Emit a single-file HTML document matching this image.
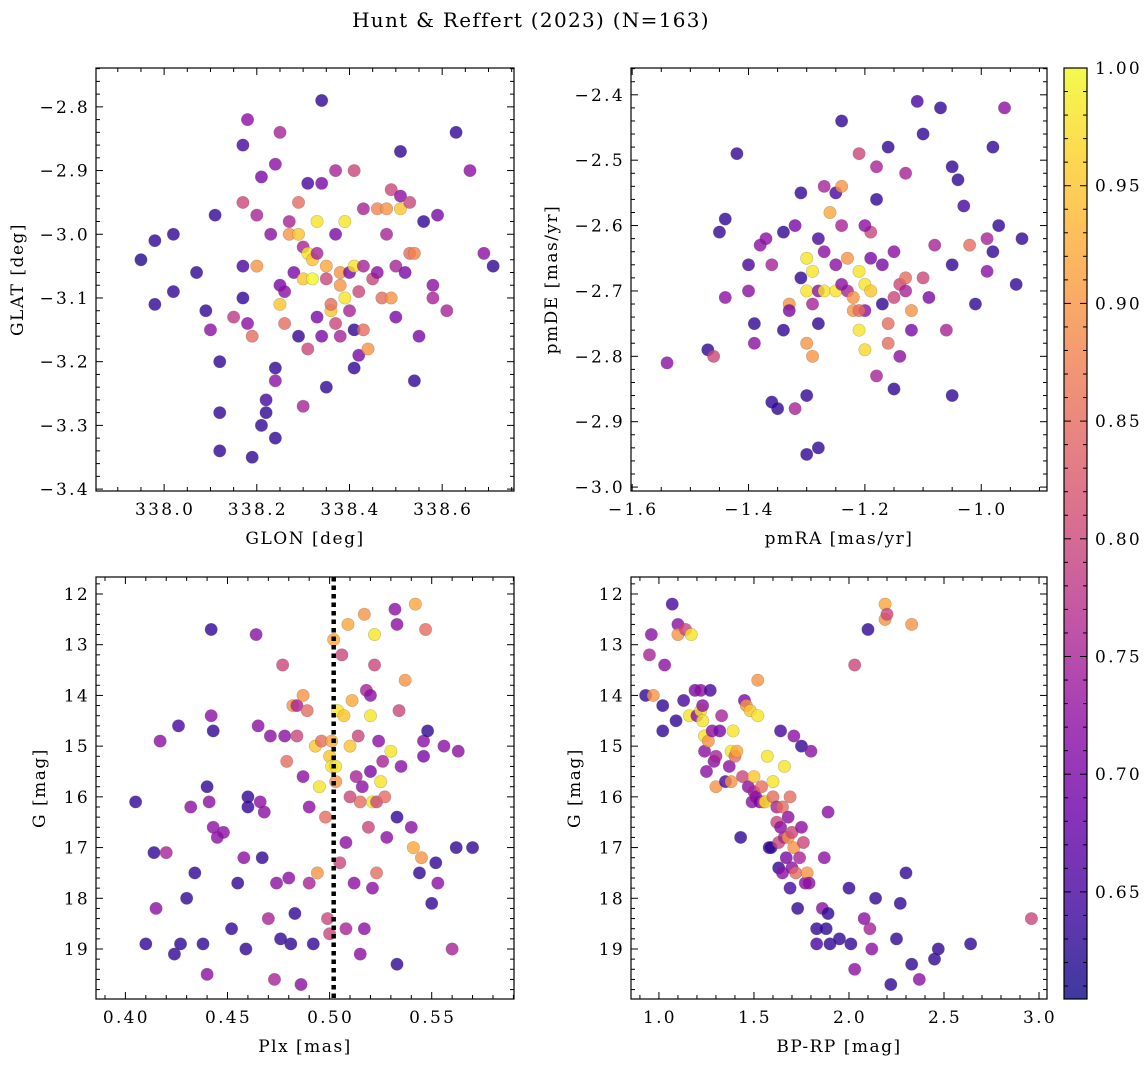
<!DOCTYPE html>
<html><head><meta charset="utf-8">
<style>
html,body{margin:0;padding:0;background:#fff;}
svg{display:block;font-family:"DejaVu Serif","Liberation Serif",serif;}
.tk{letter-spacing:2.3px;}
.lb{letter-spacing:1.5px;}
</style></head>
<body>
<svg id="fig" width="1148" height="1067" viewBox="0 0 1148 1067" xmlns="http://www.w3.org/2000/svg">
<defs>
<linearGradient id="plasma" x1="0" y1="1" x2="0" y2="0">
<stop offset="0" stop-color="#0d0887"/><stop offset="0.1" stop-color="#41049d"/>
<stop offset="0.2" stop-color="#6a00a8"/><stop offset="0.3" stop-color="#8f0da4"/>
<stop offset="0.4" stop-color="#b12a90"/><stop offset="0.5" stop-color="#cc4778"/>
<stop offset="0.6" stop-color="#e16462"/><stop offset="0.7" stop-color="#f2844b"/>
<stop offset="0.8" stop-color="#fca636"/><stop offset="0.9" stop-color="#fcce25"/>
<stop offset="1" stop-color="#f0f921"/>
</linearGradient>
</defs>
<text x="531" y="27" text-anchor="middle" font-size="20" letter-spacing="1.3">Hunt &amp; Reffert (2023) (N=163)</text>
</svg>
<script>
// ---------- data ----------
const tlGlon=[337.95,337.98,337.98,338.02,338.02,338.07,338.09,338.1,338.11,338.12,338.12,338.12,338.15,338.17,338.17,338.17,338.17,338.18,338.18,338.19,338.19,338.2,338.2,338.21,338.21,338.22,338.22,338.23,338.24,338.24,338.24,338.24,338.25,338.25,338.25,338.26,338.26,338.27,338.27,338.28,338.29,338.29,338.29,338.3,338.3,338.3,338.31,338.31,338.31,338.32,338.32,338.33,338.33,338.33,338.34,338.34,338.34,338.35,338.35,338.35,338.36,338.36,338.37,338.37,338.37,338.38,338.38,338.38,338.39,338.39,338.4,338.4,338.41,338.41,338.41,338.41,338.42,338.42,338.43,338.43,338.43,338.44,338.45,338.46,338.46,338.47,338.48,338.48,338.49,338.49,338.5,338.5,338.51,338.51,338.51,338.52,338.53,338.53,338.54,338.54,338.55,338.56,338.58,338.58,338.59,338.61,338.63,338.66,338.69,338.71];
const tlGlat=[-3.04,-3.01,-3.11,-3.0,-3.09,-3.06,-3.12,-3.15,-2.97,-3.2,-3.28,-3.34,-3.13,-3.1,-3.05,-2.95,-2.86,-2.82,-3.14,-3.16,-3.35,-3.05,-2.97,-3.3,-2.91,-3.28,-3.26,-3.0,-3.32,-3.21,-3.23,-2.89,-2.84,-3.08,-3.11,-3.14,-3.09,-3.0,-2.98,-3.06,-2.95,-3.0,-3.16,-3.02,-3.07,-3.27,-3.18,-2.92,-3.03,-3.07,-3.04,-3.03,-2.98,-3.13,-2.79,-3.16,-2.92,-3.07,-3.24,-3.05,-3.12,-3.11,-2.9,-3.14,-3.0,-3.06,-3.16,-3.08,-3.1,-2.98,-3.06,-3.12,-3.05,-3.21,-3.15,-2.9,-3.09,-3.19,-3.05,-2.96,-3.15,-3.18,-3.07,-2.96,-3.06,-3.1,-2.96,-3.0,-2.93,-3.1,-3.13,-3.05,-2.96,-2.87,-2.94,-3.06,-2.95,-3.03,-3.23,-3.03,-3.16,-2.98,-3.08,-3.1,-2.97,-3.12,-2.84,-2.9,-3.03,-3.05];
const tlProb=[0.62,0.63,0.63,0.63,0.63,0.63,0.63,0.72,0.63,0.63,0.63,0.63,0.78,0.63,0.65,0.8,0.65,0.72,0.72,0.85,0.63,0.9,0.75,0.63,0.7,0.63,0.65,0.72,0.63,0.63,0.72,0.72,0.75,0.7,0.95,0.85,0.72,0.9,0.75,0.7,0.85,0.95,0.63,0.75,0.95,0.75,0.8,0.65,0.98,1.0,0.95,0.75,0.98,0.7,0.63,0.7,0.7,0.8,0.63,0.92,0.95,0.85,0.75,0.8,0.7,0.9,0.75,0.9,0.98,0.98,0.7,0.75,0.98,0.63,0.63,0.8,0.8,0.7,0.75,0.75,0.85,0.9,0.8,0.88,0.72,0.85,0.9,0.75,0.8,0.9,0.7,0.75,0.95,0.63,0.72,0.7,0.8,0.85,0.63,0.88,0.7,0.63,0.72,0.75,0.7,0.75,0.63,0.72,0.72,0.63];

const trPmra=[-1.54,-1.47,-1.46,-1.45,-1.44,-1.42,-1.44,-1.4,-1.4,-1.39,-1.39,-1.38,-1.37,-1.36,-1.36,-1.35,-1.34,-1.34,-1.33,-1.33,-1.32,-1.32,-1.31,-1.31,-1.3,-1.3,-1.3,-1.3,-1.3,-1.29,-1.29,-1.29,-1.28,-1.28,-1.28,-1.27,-1.27,-1.26,-1.25,-1.25,-1.24,-1.24,-1.24,-1.23,-1.22,-1.21,-1.21,-1.2,-1.2,-1.28,-1.25,-1.27,-1.24,-1.23,-1.21,-1.2,-1.19,-1.19,-1.18,-1.18,-1.18,-1.17,-1.17,-1.16,-1.16,-1.15,-1.15,-1.14,-1.14,-1.13,-1.13,-1.12,-1.11,-1.1,-1.1,-1.09,-1.08,-1.07,-1.06,-1.05,-1.05,-1.04,-1.03,-1.02,-1.01,-0.98,-0.96,-0.99,-0.98,-0.97,-0.94,-0.93,-0.99,-1.05,-1.16,-1.15,-1.13,-1.12,-1.2,-1.22,-1.21,-1.19];
const trPmde=[-2.81,-2.79,-2.8,-2.61,-2.59,-2.49,-2.71,-2.66,-2.7,-2.78,-2.75,-2.63,-2.62,-2.66,-2.87,-2.88,-2.76,-2.61,-2.72,-2.73,-2.6,-2.88,-2.55,-2.68,-2.86,-2.95,-2.78,-2.7,-2.65,-2.8,-2.67,-2.72,-2.7,-2.62,-2.75,-2.7,-2.64,-2.58,-2.55,-2.7,-2.44,-2.54,-2.6,-2.7,-2.73,-2.67,-2.76,-2.79,-2.73,-2.94,-2.66,-2.54,-2.69,-2.65,-2.73,-2.69,-2.7,-2.61,-2.56,-2.51,-2.83,-2.66,-2.72,-2.48,-2.75,-2.64,-2.85,-2.69,-2.8,-2.68,-2.52,-2.73,-2.41,-2.46,-2.68,-2.71,-2.63,-2.42,-2.76,-2.51,-2.66,-2.53,-2.57,-2.63,-2.72,-2.48,-2.42,-2.62,-2.64,-2.6,-2.69,-2.62,-2.67,-2.86,-2.78,-2.71,-2.7,-2.76,-2.6,-2.71,-2.49,-2.65];
const trProb=[0.72,0.63,0.8,0.63,0.63,0.63,0.72,0.65,0.72,0.72,0.63,0.72,0.72,0.75,0.63,0.63,0.63,0.63,0.9,0.7,0.7,0.75,0.63,0.63,0.63,0.63,0.9,0.98,0.98,0.9,0.98,0.75,0.72,0.65,0.63,0.98,0.72,0.92,0.65,0.98,0.63,0.9,0.75,0.75,0.9,0.98,0.98,0.97,0.72,0.63,0.72,0.75,0.72,0.9,0.85,0.98,0.95,0.8,0.63,0.75,0.75,0.7,0.63,0.63,0.85,0.72,0.63,0.8,0.72,0.85,0.75,0.9,0.65,0.63,0.8,0.7,0.75,0.63,0.75,0.63,0.63,0.63,0.65,0.85,0.63,0.63,0.72,0.75,0.63,0.63,0.63,0.63,0.72,0.63,0.85,0.8,0.75,0.7,0.72,0.9,0.8,0.7];

const blPlx=[0.405,0.41,0.414,0.415,0.417,0.42,0.424,0.426,0.427,0.43,0.432,0.434,0.438,0.44,0.44,0.441,0.442,0.442,0.443,0.443,0.445,0.448,0.452,0.455,0.458,0.459,0.46,0.46,0.464,0.466,0.465,0.467,0.468,0.47,0.471,0.473,0.474,0.476,0.477,0.478,0.479,0.48,0.481,0.482,0.483,0.484,0.484,0.486,0.487,0.487,0.489,0.49,0.49,0.492,0.493,0.494,0.495,0.496,0.498,0.499,0.5,0.5,0.501,0.501,0.502,0.503,0.503,0.504,0.505,0.506,0.507,0.508,0.508,0.509,0.51,0.51,0.511,0.512,0.513,0.514,0.515,0.515,0.516,0.517,0.517,0.518,0.519,0.52,0.52,0.52,0.521,0.521,0.522,0.522,0.523,0.523,0.524,0.525,0.526,0.527,0.528,0.53,0.532,0.533,0.533,0.533,0.534,0.535,0.537,0.54,0.541,0.542,0.544,0.545,0.546,0.546,0.547,0.548,0.55,0.552,0.553,0.556,0.56,0.562,0.563,0.57];
const blG=[16.1,18.9,17.1,18.2,14.9,17.1,19.1,14.6,18.9,18.0,16.2,17.5,18.9,15.8,19.5,16.1,12.7,14.4,14.7,16.6,16.8,16.7,18.6,17.7,17.2,19.0,16.0,16.2,12.8,16.1,14.6,17.2,16.3,18.4,14.8,19.6,17.7,18.8,13.4,14.8,15.3,17.6,18.9,14.2,18.3,14.8,14.2,19.7,15.6,14.0,14.3,16.2,17.7,18.9,15.0,17.5,15.8,14.9,16.4,18.4,15.2,18.7,15.4,14.9,12.9,15.4,15.7,14.3,17.3,13.2,14.4,16.9,18.6,12.6,15.0,16.0,14.1,17.7,15.6,14.8,16.1,19.1,15.8,18.6,12.4,13.9,16.6,14.0,14.4,15.5,17.8,16.1,12.8,13.4,16.1,17.5,14.9,15.7,15.3,16.0,16.8,15.1,12.3,12.6,16.4,19.3,14.3,15.4,13.7,16.6,17.0,12.2,17.5,17.2,14.9,15.2,12.7,14.7,18.1,17.3,17.7,15.0,19.0,17.0,15.1,17.0];
const blProb=[0.63,0.63,0.63,0.72,0.72,0.75,0.63,0.65,0.63,0.63,0.72,0.63,0.63,0.63,0.72,0.72,0.63,0.72,0.63,0.72,0.72,0.72,0.63,0.63,0.72,0.63,0.63,0.63,0.72,0.72,0.72,0.63,0.72,0.75,0.72,0.75,0.72,0.63,0.8,0.72,0.85,0.72,0.63,0.9,0.63,0.8,0.75,0.72,0.72,0.9,0.85,0.72,0.75,0.63,0.95,0.9,0.98,0.85,0.85,0.8,0.95,0.8,0.98,0.92,0.92,0.98,0.9,0.98,0.8,0.8,0.95,0.72,0.75,0.92,0.95,0.8,0.92,0.72,0.75,0.8,0.85,0.72,0.72,0.72,0.9,0.75,0.8,0.72,0.98,0.7,0.72,0.98,0.98,0.8,0.8,0.85,0.72,0.98,0.75,0.85,0.72,0.98,0.72,0.72,0.63,0.63,0.8,0.72,0.9,0.72,0.92,0.92,0.63,0.9,0.72,0.7,0.85,0.63,0.63,0.63,0.72,0.72,0.75,0.63,0.72,0.63];
const plxRef=[0.502];

const brColor=[0.93,0.95,0.96,0.97,1.02,1.02,1.03,1.07,1.09,1.1,1.1,1.13,1.14,1.16,1.17,1.19,1.2,1.22,1.22,1.23,1.23,1.24,1.24,1.25,1.26,1.27,1.28,1.29,1.3,1.3,1.32,1.33,1.35,1.37,1.38,1.38,1.39,1.4,1.41,1.43,1.44,1.45,1.46,1.47,1.48,1.49,1.5,1.5,1.51,1.52,1.52,1.53,1.54,1.55,1.56,1.57,1.58,1.59,1.6,1.6,1.62,1.62,1.63,1.63,1.64,1.64,1.65,1.65,1.66,1.66,1.67,1.68,1.68,1.69,1.69,1.7,1.7,1.71,1.71,1.72,1.73,1.74,1.75,1.75,1.76,1.77,1.78,1.79,1.8,1.83,1.83,1.86,1.87,1.88,1.9,1.89,1.89,1.95,2.0,2.01,2.03,2.03,2.08,2.1,2.11,2.12,2.14,2.19,2.19,2.2,2.22,2.25,2.27,2.3,2.33,2.33,2.37,2.45,2.47,2.64,2.96];
const brG=[14.0,13.2,12.8,14.0,14.2,14.7,13.4,12.2,14.5,12.6,12.8,14.1,12.7,14.4,12.8,13.9,14.4,13.9,14.3,14.5,14.2,14.8,15.1,15.5,14.9,13.9,14.7,15.3,15.2,15.8,14.7,14.4,15.7,15.4,15.1,15.7,14.7,15.2,15.1,16.8,15.6,14.1,14.2,15.8,14.3,16.1,15.6,15.9,16.0,13.7,14.4,16.1,15.8,16.1,16.1,15.2,17.0,17.0,16.0,15.7,16.2,16.5,17.4,16.9,14.7,16.6,17.5,16.2,15.4,16.8,17.2,16.4,16.8,17.8,16.0,17.4,16.7,14.8,17.0,17.5,18.2,17.2,16.6,15.0,16.9,17.7,17.5,17.7,15.1,18.6,18.9,18.2,17.2,18.6,18.9,18.3,16.3,18.8,17.8,18.9,19.4,13.4,18.4,12.7,18.6,19.0,18.0,12.2,12.5,12.4,19.7,18.8,18.1,17.5,12.6,19.3,19.6,19.2,19.0,18.9,18.4];
const brProb=[0.63,0.75,0.72,0.9,0.63,0.63,0.72,0.65,0.63,0.72,0.9,0.65,0.8,0.98,0.98,0.7,0.72,0.72,0.98,0.98,0.72,0.98,0.72,0.72,0.9,0.65,0.72,0.72,0.75,0.9,0.7,0.75,0.65,0.72,0.98,0.9,0.98,0.85,0.92,0.63,0.8,0.7,0.9,0.72,0.95,0.72,0.95,0.75,0.72,0.9,0.98,0.7,0.85,0.8,0.98,0.98,0.63,0.63,0.85,0.98,0.75,0.8,0.63,0.8,0.65,0.72,0.72,0.85,0.98,0.75,0.7,0.72,0.9,0.65,0.85,0.72,0.8,0.72,0.9,0.85,0.63,0.75,0.72,0.63,0.8,0.72,0.9,0.72,0.72,0.63,0.65,0.72,0.72,0.63,0.63,0.63,0.72,0.63,0.63,0.63,0.72,0.8,0.72,0.63,0.75,0.72,0.63,0.92,0.9,0.8,0.63,0.63,0.63,0.63,0.9,0.63,0.72,0.63,0.63,0.63,0.8];

const cbTicks=[0.65,0.70,0.75,0.80,0.85,0.90,0.95,1.00];

// ---------- helpers ----------
const NS="http://www.w3.org/2000/svg";
const svg=document.getElementById('fig');
const VMIN=0.6045,VMAX=1.0;
const stops=[[13,8,135],[65,4,157],[106,0,168],[143,13,164],[177,42,144],[204,71,120],[225,100,98],[242,132,75],[252,166,54],[252,206,37],[240,249,33]];
function plasma(v){let t=(v-VMIN)/(VMAX-VMIN);t=Math.max(0,Math.min(1,t));const f=t*10,i=Math.min(9,Math.floor(f)),u=f-i;const a=stops[i],b=stops[i+1];return 'rgb('+a.map((c,k)=>Math.round(c+(b[k]-c)*u)).join(',')+')';}
function mk(tag,attrs,parent){const e=document.createElementNS(NS,tag);for(const k in attrs)e.setAttribute(k,attrs[k]);(parent||svg).appendChild(e);return e;}
function fmt(v,d){return (v<0?'\u2212':'')+Math.abs(v).toFixed(d);}

function panel(cfg){
  const g=mk('g',{});
  
  
  const {x0,x1,y0,y1}=cfg.box;
  const sx=v=>x0+(v-cfg.xr[0])/(cfg.xr[1]-cfg.xr[0])*(x1-x0);
  const sy=cfg.yinv?(v=>y0+(v-cfg.yr[0])/(cfg.yr[1]-cfg.yr[0])*(y1-y0)):(v=>y1-(v-cfg.yr[0])/(cfg.yr[1]-cfg.yr[0])*(y1-y0));
  const pg=mk('g',{},g);
  
  
  for(let i=0;i<cfg.xs.length;i++){
    const c=mk('circle',{cx:sx(cfg.xs[i]),cy:sy(cfg.ys[i]),r:6.2,fill:plasma(cfg.cs[i]),'fill-opacity':0.8,stroke:'#555','stroke-opacity':0.35,'stroke-width':0.6},pg);
    
    
  }
  if(cfg.vline){for(const v of cfg.vline){const l=mk('line',{x1:sx(v),x2:sx(v),y1:y0,y2:y1,stroke:'#000','stroke-width':4.5,'stroke-dasharray':'4.5,4'},g);
    
    }}
  const fr=mk('rect',{x:x0,y:y0,width:x1-x0,height:y1-y0,fill:'none',stroke:'#000','stroke-width':1.2},g);
  
  
  const eps=1e-9;
  for(let v=Math.ceil(cfg.xr[0]/cfg.xmin-eps)*cfg.xmin;v<=cfg.xr[1]+eps;v+=cfg.xmin){
    const px=sx(v);const major=Math.abs(v/cfg.xmaj-Math.round(v/cfg.xmaj))<1e-4;const L=major?7:4;
    mk('line',{x1:px,x2:px,y1:y1,y2:y1-L,stroke:'#000','stroke-width':1},g);
    mk('line',{x1:px,x2:px,y1:y0,y2:y0+L,stroke:'#000','stroke-width':1},g);
    if(major){const t=mk('text',{x:px+1,y:y1+24,'text-anchor':'middle','font-size':17,'class':'tk'},g);t.textContent=fmt(v,cfg.xd);
      
      }
  }
  for(let v=Math.ceil(cfg.yr[0]/cfg.ymin-eps)*cfg.ymin;v<=cfg.yr[1]+eps;v+=cfg.ymin){
    const py=sy(v);const major=Math.abs(v/cfg.ymaj-Math.round(v/cfg.ymaj))<1e-4;const L=major?7:4;
    mk('line',{x1:x0,x2:x0+L,y1:py,y2:py,stroke:'#000','stroke-width':1},g);
    mk('line',{x1:x1,x2:x1-L,y1:py,y2:py,stroke:'#000','stroke-width':1},g);
    if(major){const t=mk('text',{x:x0-6,y:py+6,'text-anchor':'end','font-size':17,'class':'tk'},g);t.textContent=fmt(v,cfg.yd);
      
      }
  }
  const xl=mk('text',{x:(x0+x1)/2,y:y1+53,'text-anchor':'middle','font-size':17,'class':'lb'},g);xl.textContent=cfg.xlabel;
  
  
  const yx=cfg.ylx,yy=(y0+y1)/2;
  const yl=mk('text',{x:yx,y:yy,'text-anchor':'middle','font-size':17,'class':'lb',transform:'rotate(-90 '+yx+' '+yy+')'},g);yl.textContent=cfg.ylabel;
  
  
}

panel({name:'panel-glon-glat',box:{x0:96,x1:514,y0:68,y1:491},xs:tlGlon,ys:tlGlat,cs:tlProb,xr:[337.853,338.755],yr:[-3.403,-2.739],xmaj:0.2,xmin:0.05,ymaj:0.1,ymin:0.02,xd:1,yd:1,xlabel:'GLON [deg]',ylabel:'GLAT [deg]',ylx:23});
panel({name:'panel-pm',box:{x0:631,x1:1047,y0:68,y1:491},xs:trPmra,ys:trPmde,cs:trProb,xr:[-1.602,-0.887],yr:[-3.006,-2.359],xmaj:0.2,xmin:0.05,ymaj:0.1,ymin:0.02,xd:1,yd:1,xlabel:'pmRA [mas/yr]',ylabel:'pmDE [mas/yr]',ylx:557});
panel({name:'panel-plx-g',box:{x0:96,x1:514,y0:577,y1:999},xs:blPlx,ys:blG,cs:blProb,xr:[0.3856,0.5903],yr:[11.665,19.986],yinv:true,xmaj:0.05,xmin:0.01,ymaj:1,ymin:0.2,xd:2,yd:0,xlabel:'Plx [mas]',ylabel:'G [mag]',ylx:45,vline:plxRef});
panel({name:'panel-cmd',box:{x0:631,x1:1047,y0:577,y1:999},xs:brColor,ys:brG,cs:brProb,xr:[0.853,3.042],yr:[11.665,19.986],yinv:true,xmaj:0.5,xmin:0.1,ymaj:1,ymin:0.2,xd:1,yd:0,xlabel:'BP-RP [mag]',ylabel:'G [mag]',ylx:580});

const cb=mk('g',{});


const cbx0=1064,cbx1=1087,cby0=68,cby1=999;
mk('rect',{x:cbx0,y:cby0,width:cbx1-cbx0,height:cby1-cby0,fill:'url(#plasma)','fill-opacity':0.8},cb);
mk('rect',{x:cbx0,y:cby0,width:cbx1-cbx0,height:cby1-cby0,fill:'none',stroke:'#000','stroke-width':1.2},cb);
const cy=v=>cby1-(v-VMIN)/(VMAX-VMIN)*(cby1-cby0);
for(let v=0.61;v<=1.0001;v+=0.01){const p=cy(v);const major=Math.abs(v*20-Math.round(v*20))<1e-4;
  mk('line',{x1:cbx1,x2:cbx1-(major?7:4),y1:p,y2:p,stroke:'#000','stroke-width':1},cb);
  mk('line',{x1:cbx0,x2:cbx0+(major?7:4),y1:p,y2:p,stroke:'#000','stroke-width':1},cb);}
for(const v of cbTicks){const t=mk('text',{x:cbx1+8,y:cy(v)+6,'font-size':17,'class':'tk'},cb);t.textContent=v.toFixed(2);
  
  }
</script>
</body></html>
